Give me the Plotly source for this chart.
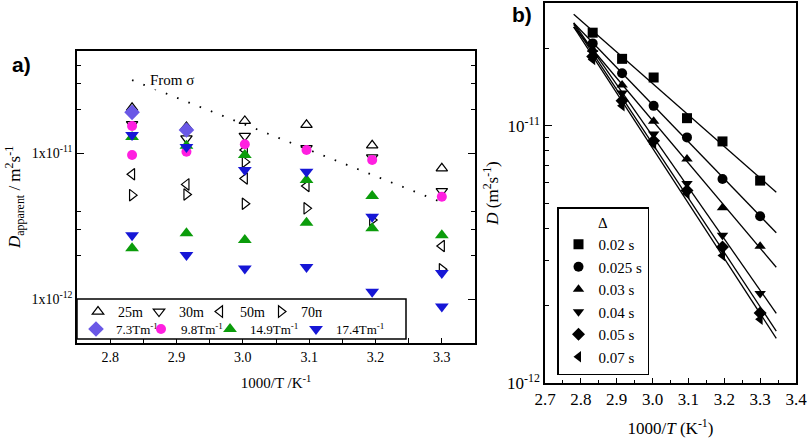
import numpy as np
import plotly.graph_objects as go

# ---------------- data ----------------
T_INV = [2.833, 2.915, 3.003, 3.096, 3.195, 3.300]

# panel a
A_25M_X = [2.833, 2.915, 3.003, 3.096, 3.195, 3.300]
A_25M_Y = [2.04e-11, 1.51e-11, 1.66e-11, 1.56e-11, 1.13e-11, 7.86e-12]
A_30M_X = [2.833, 2.915, 3.003, 3.096, 3.195, 3.300]
A_30M_Y = [1.58e-11, 1.26e-11, 1.31e-11, 1.08e-11, 9.35e-12, 5.49e-12]
A_50M_X = [2.833, 2.915, 3.003, 3.003, 3.096, 3.300]
A_50M_Y = [7.15e-12, 6.1e-12, 1.05e-11, 6.7e-12, 5.94e-12, 2.31e-12]
A_70M_X = [2.833, 2.915, 3.003, 3.003, 3.096, 3.195, 3.300]
A_70M_Y = [5.15e-12, 5.2e-12, 8.7e-12, 4.5e-12, 4.18e-12, 3.48e-12, 1.60e-12]
A_G73_X = [2.833, 2.915]
A_G73_Y = [1.90e-11, 1.44e-11]
A_G98_X = [2.833, 2.833, 2.915, 3.003, 3.096, 3.195, 3.300]
A_G98_Y = [1.53e-11, 9.7e-12, 1.02e-11, 1.15e-11, 1.05e-11, 8.95e-12, 5.02e-12]
A_G149_X = [2.833, 2.833, 2.915, 2.915, 3.003, 3.003, 3.096, 3.096, 3.195, 3.195, 3.300]
A_G149_Y = [1.29e-11, 2.23e-12, 1.12e-11, 2.82e-12, 9.7e-12, 2.54e-12, 6.53e-12, 3.33e-12,
            5.07e-12, 3.05e-12, 2.74e-12]
A_G174_X = [2.833, 2.833, 2.915, 2.915, 3.003, 3.003, 3.096, 3.096, 3.195, 3.195, 3.300, 3.300]
A_G174_Y = [1.33e-11, 2.74e-12, 1.10e-11, 2.0e-12, 7.65e-12, 1.62e-12, 7.45e-12, 1.66e-12,
            3.66e-12, 1.12e-12, 1.51e-12, 8.9e-13]
SIGMA_Y = [3.16e-11, 2.25e-11, 1.56e-11, 1.06e-11, 7.1e-12, 4.6e-12]

A_LABELS = ["25m", "30m", "50m", "70m",
            "7.3Tm<sup>-1</sup>", "9.8Tm<sup>-1</sup>", "14.9Tm<sup>-1</sup>", "17.4Tm<sup>-1</sup>"]

# panel b
B_LABELS = ["0.02 s", "0.025 s", "0.03 s", "0.04 s", "0.05 s", "0.07 s"]
B_002 = [2.30e-11, 1.82e-11, 1.54e-11, 1.07e-11, 8.69e-12, 6.12e-12]
B_0025 = [2.09e-11, 1.60e-11, 1.195e-11, 9.01e-12, 6.21e-12, 4.45e-12]
B_003 = [1.98e-11, 1.44e-11, 1.04e-11, 7.43e-12, 4.80e-12, 3.40e-12]
B_004 = [1.92e-11, 1.34e-11, 9.29e-12, 5.97e-12, 3.75e-12, 2.23e-12]
B_005 = [1.86e-11, 1.25e-11, 8.75e-12, 5.60e-12, 3.38e-12, 1.87e-12]
B_007 = [1.81e-11, 1.195e-11, 8.50e-12, 5.44e-12, 3.13e-12, 1.77e-12]
FIT_X = [2.78, 3.345]

A_XTICKS = [2.8, 2.9, 3.0, 3.1, 3.2, 3.3]
B_XTICKS = [2.7, 2.8, 2.9, 3.0, 3.1, 3.2, 3.3, 3.4]

# ---------------- figure ----------------
SERIF = "Liberation Serif"
W, H = 810, 447

def px_x(p):
    return p / W

def px_y(p):
    return 1 - p / H

fig = go.Figure()

open_specs = [
    (A_25M_X, A_25M_Y, "triangle-up-open"),
    (A_30M_X, A_30M_Y, "triangle-down-open"),
    (A_50M_X, A_50M_Y, "triangle-left-open"),
    (A_70M_X, A_70M_Y, "triangle-right-open"),
]
for (xs, ys, sym), lab in zip(open_specs, A_LABELS[:4]):
    fig.add_trace(go.Scatter(
        x=xs, y=ys, mode="markers", name=lab, legend="legend",
        marker=dict(symbol=sym, size=10, color="black", line=dict(width=1.2, color="black")),
        xaxis="x", yaxis="y"))

fill_specs = [
    (A_G73_X, A_G73_Y, "diamond", "#6a58e6", 12, "legend2"),
    (A_G98_X, A_G98_Y, "circle", "#ff1fe0", 10, "legend4"),
    (A_G149_X, A_G149_Y, "triangle-up", "#0b9c0b", 12, "legend5"),
    (A_G174_X, A_G174_Y, "triangle-down", "#1616d6", 12, "legend6"),
]
for (xs, ys, sym, col, sz, lg), lab in zip(fill_specs, A_LABELS[4:]):
    fig.add_trace(go.Scatter(
        x=xs, y=ys, mode="markers", name=lab, legend=lg,
        marker=dict(symbol=sym, size=sz, color=col, line=dict(width=0)),
        xaxis="x", yaxis="y"))

fig.add_trace(go.Scatter(
    x=T_INV, y=SIGMA_Y, mode="lines", showlegend=False,
    line=dict(color="black", width=1.8, dash="1.6px,10.5px"),
    xaxis="x", yaxis="y"))

# panel b
b_series = [B_002, B_0025, B_003, B_004, B_005, B_007]
b_symbols = ["square", "circle", "triangle-up", "triangle-down", "diamond", "triangle-left"]
for ys, sym, lab in zip(b_series, b_symbols, B_LABELS):
    coef = np.polyfit(T_INV, np.log10(ys), 1)
    fx = np.array(FIT_X)
    fy = 10 ** np.polyval(coef, fx)
    fig.add_trace(go.Scatter(
        x=fx, y=fy, mode="lines", showlegend=False,
        line=dict(color="black", width=1.3), xaxis="x2", yaxis="y2"))
for ys, sym, lab in zip(b_series, b_symbols, B_LABELS):
    fig.add_trace(go.Scatter(
        x=T_INV, y=ys, mode="markers", name=lab, legend="legend3",
        marker=dict(symbol=sym, size=10, color="black", line=dict(width=0)),
        xaxis="x2", yaxis="y2"))

axis_common = dict(showline=True, linecolor="black", linewidth=1.5, showgrid=False,
                   zeroline=False, ticks="inside", tickcolor="black", automargin=False)

row_legend = dict(orientation="h", xanchor="left", yanchor="top",
                  bgcolor="rgba(0,0,0,0)", borderwidth=0,
                  font=dict(size=14, family=SERIF), itemwidth=30)
row2_legend = dict(row_legend, font=dict(size=13, family=SERIF))

fig.update_layout(
    width=W, height=H,
    margin=dict(l=0, r=0, t=0, b=0, pad=0, autoexpand=False),
    paper_bgcolor="white", plot_bgcolor="white",
    font=dict(family=SERIF, color="black", size=14),
    xaxis=dict(
        **axis_common, domain=[px_x(77), px_x(475)], range=[2.75, 3.35], anchor="y",
        mirror=True, tickvals=A_XTICKS, ticktext=[f"{v:.1f}" for v in A_XTICKS],
        ticklen=5, tickwidth=1, tickfont=dict(size=14, family=SERIF),
        minor=dict(tickvals=[2.85, 2.95, 3.05, 3.15, 3.25], ticks="inside", ticklen=5,
                   tickcolor="black", showgrid=False),
        title=dict(text="1000/T /K<sup>-1</sup>", font=dict(size=15, family=SERIF), standoff=14),
    ),
    yaxis=dict(
        **axis_common, domain=[px_y(343), px_y(51)], type="log",
        range=[np.log10(5e-13), np.log10(5e-11)], anchor="x", mirror="ticks",
        tickvals=[1e-12, 1e-11], ticktext=["1x10<sup>-12</sup>", "1x10<sup>-11</sup>"],
        ticklen=7, tickwidth=1, tickfont=dict(size=14, family=SERIF),
        minor=dict(tickvals=[2e-12, 3e-12, 4e-12, 2e-11, 3e-11, 4e-11], ticks="inside",
                   ticklen=4, tickcolor="black", showgrid=False),
        title=dict(text="<i>D</i><sub>apparent</sub> / m<sup>2</sup>s<sup>-1</sup>",
                   font=dict(size=17, family=SERIF), standoff=6),
    ),
    xaxis2=dict(
        **axis_common, domain=[px_x(545), px_x(796)], range=[2.7, 3.4], anchor="y2",
        mirror=True, tickvals=B_XTICKS, ticktext=[f"{v:.1f}" for v in B_XTICKS],
        ticklen=5, tickwidth=1, tickfont=dict(size=17, family=SERIF),
        minor=dict(tickvals=[2.75, 2.85, 2.95, 3.05, 3.15, 3.25, 3.35], ticks="inside",
                   ticklen=3, tickcolor="black", showgrid=False),
        title=dict(text="1000/<i>T</i> (K<sup>-1</sup>)", font=dict(size=17, family=SERIF),
                   standoff=14),
    ),
    yaxis2=dict(
        **axis_common, domain=[px_y(383), px_y(3)], type="log",
        range=[-12, np.log10(3e-11)], anchor="x2", mirror=True,
        tickvals=[1e-12, 1e-11], ticktext=["10<sup>-12</sup>", "10<sup>-11</sup>"],
        ticklen=7, tickwidth=1, tickfont=dict(size=17, family=SERIF),
        minor=dict(tickvals=[2e-12, 3e-12, 4e-12, 5e-12, 6e-12, 7e-12, 8e-12, 9e-12, 2e-11],
                   ticks="inside", ticklen=4, tickcolor="black", showgrid=False),
        title=dict(text="<i>D</i> (m<sup>2</sup>s<sup>-1</sup>)", font=dict(size=17, family=SERIF),
                   standoff=4),
    ),
    legend=dict(**row_legend, x=px_x(78), y=px_y(296), entrywidth=16),
    legend2=dict(**row2_legend, x=px_x(76), y=px_y(314)),
    legend4=dict(**row2_legend, x=px_x(141), y=px_y(314)),
    legend5=dict(**row2_legend, x=px_x(210), y=px_y(314)),
    legend6=dict(**row2_legend, x=px_x(296), y=px_y(314)),
    legend3=dict(orientation="v", x=px_x(557), y=px_y(207), xanchor="left", yanchor="top",
                 bgcolor="white", bordercolor="black", borderwidth=1.5,
                 font=dict(size=15, family=SERIF), itemwidth=30,
                 title=dict(text="Δ", side="top center", font=dict(size=15, family=SERIF))),
    shapes=[dict(type="rect", xref="paper", yref="paper",
                 x0=px_x(77), x1=px_x(406), y0=px_y(339), y1=px_y(299),
                 line=dict(color="black", width=1.5), fillcolor="white", layer="above")],
    annotations=[
        dict(text="<b>a)</b>", x=px_x(21), y=px_y(65), xref="paper", yref="paper",
             xanchor="center", yanchor="middle",
             showarrow=False, font=dict(family="Liberation Sans", size=21)),
        dict(text="<b>b)</b>", x=px_x(522), y=px_y(15), xref="paper", yref="paper",
             xanchor="center", yanchor="middle",
             showarrow=False, font=dict(family="Liberation Sans", size=21)),
        dict(text="From σ", x=2.893, y=np.log10(3.15e-11), xref="x", yref="y",
             showarrow=False, bgcolor="white", font=dict(size=15, family=SERIF)),
    ],
)

fig.write_html("out.html", post_script="document.body.style.margin='0';",
               config={"displayModeBar": False})
